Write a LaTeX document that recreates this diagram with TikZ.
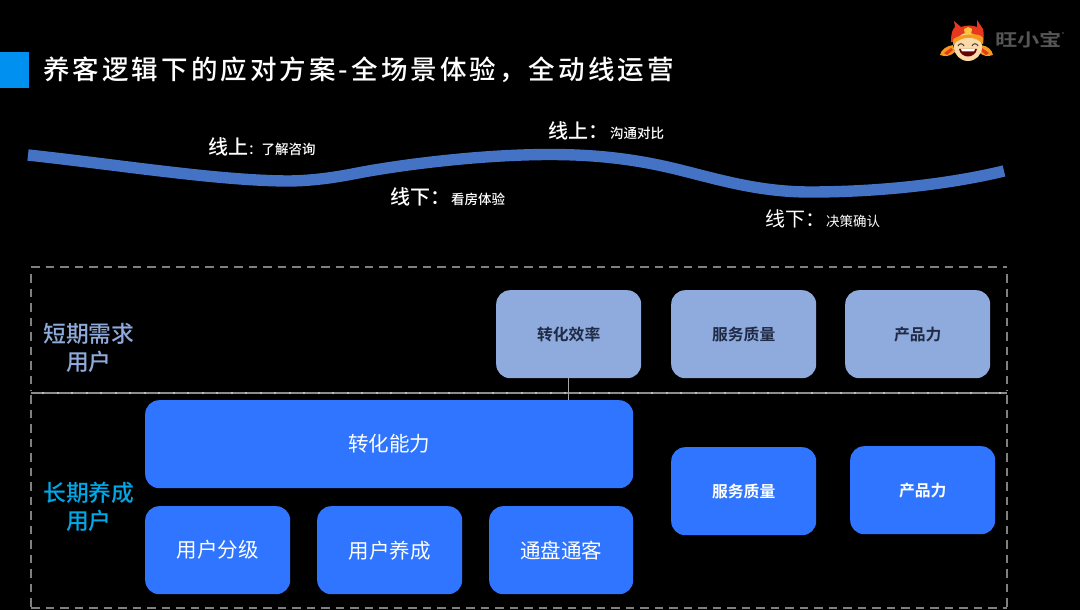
\documentclass[tikz,border=0pt]{standalone}
\usepackage{graphicx}
\usepackage{fontspec}
\setmainfont{Noto Sans CJK SC}
\newfontfamily\cjkbold{Noto Sans CJK SC Bold}
\newfontfamily\cjkmed{Noto Sans CJK SC Medium}
\definecolor{ribbon}{HTML}{4472C4}
\definecolor{lightbox}{HTML}{8FAADC}
\definecolor{strongbox}{HTML}{2F75FF}
\definecolor{titlebar}{HTML}{0090F0}
\definecolor{dashgray}{HTML}{808080}
\definecolor{longtext}{HTML}{00A8E8}
\definecolor{boxink}{HTML}{1F2A44}
\definecolor{hatred}{HTML}{E8371C}
\definecolor{hatorange}{HTML}{F59A1E}
\definecolor{hatyellow}{HTML}{F8C83C}
\definecolor{skin}{HTML}{FBD9A8}
\definecolor{logogray}{HTML}{555555}
\tikzset{
 x=1pt,y=-1pt,
 card/.style={rounded corners=14pt,inner sep=0pt,align=center,anchor=north west},
 lightcard/.style={card,fill=lightbox,text=boxink,minimum width=145pt,minimum height=88pt,font=\cjkbold\fontsize{15.8}{16}\selectfont},
 bluecard/.style={card,fill=strongbox,text=white,minimum width=145pt,minimum height=88pt,font=\fontsize{20.5}{21}\selectfont},
 smallblue/.style={bluecard,font=\cjkbold\fontsize{15.8}{16}\selectfont},
 rowlabel/.style={align=center,inner sep=0pt,font=\cjkmed\fontsize{22.8}{28}\selectfont},
 stagelabel/.style={text=white,inner sep=0pt,anchor=west},
 dashframe/.style={draw=dashgray,line width=2.2pt,dash pattern=on 8.7pt off 5.8pt},
}
\newcommand{\bigtxt}{\fontsize{20}{20}\selectfont}
\newcommand{\smalltxt}{\fontsize{13.5}{14}\selectfont}
\newcommand{\up}[2]{\raisebox{#1pt}{#2}}
\begin{document}
\begin{tikzpicture}
\useasboundingbox[fill=black] (0,0) rectangle (1080,610);
% title
\fill[titlebar] (0,52) rectangle (29,88);
\node[text=white,inner sep=0pt,anchor=west,font=\cjkmed\fontsize{26.5}{27}\selectfont] (title) at (43,70) {\addfontfeature{LetterSpace=11.6}养客逻辑下的应对方案-全场景体验，全动线运营};
% logo: flaps
\fill[hatorange] (953,45) .. controls (946,46) and (941,50) .. (940,55) .. controls (945,57) and (951,56) .. (955,52) -- cycle;
\fill[hatorange] (981,45) .. controls (988,46) and (992,50) .. (993,55) .. controls (988,57) and (982,56) .. (979,52) -- cycle;
\fill[hatred] (944,53) -- (951,48) -- (953,50) -- (947,55) -- cycle;
\fill[hatred] (989,53) -- (982,48) -- (980,50) -- (986,55) -- cycle;
% logo: hat
\fill[hatred] (951,42) .. controls (951,34) and (952,30) .. (955,27) -- (954,21) -- (961,27) .. controls (966,25) and (972,25) .. (977,27) -- (977,20) -- (983,29) .. controls (984,33) and (984,38) .. (983,44) -- cycle;
% logo: face
\fill[skin] (968,47) circle[radius=14];
% logo: hat band
\fill[hatorange] (953,40) .. controls (955,35) and (980,31) .. (983,38) -- (983,44) .. controls (975,35) and (961,36) .. (953,45) -- cycle;
\fill[hatyellow] (964,29) -- (968,27) -- (972,29) -- (971,34) -- (965,35) -- cycle;
% logo: features
\draw[black!75,line width=1pt] (958,46) .. controls (959,43) and (963,43) .. (964,46);
\draw[black!75,line width=1pt] (972,46) .. controls (973,43) and (977,43) .. (978,46);
\fill[red!40!black] (959,49) .. controls (961,59) and (975,59) .. (977,49) -- cycle;
\fill[white] (961,49) -- (975,49) -- (974,51.5) -- (962,51.5) -- cycle;
\node[text=logogray,inner sep=0pt,anchor=west,font=\cjkbold\fontsize{17.5}{18}\selectfont] (logotext) at (995,39.5) {\scalebox{1.27}[1]{旺小宝}};
\fill[logogray] (1063,33) circle[radius=.8];
% ribbon
\draw[ribbon,line width=11.4pt] (28,155) .. controls (120,165) and (220,181) .. (290,181) .. controls (315,180.5) and (335,177.5) .. (360,172.6) .. controls (400,165) and (480,154.5) .. (550,154.5) .. controls (600,154.5) and (640,160) .. (680,170) .. controls (720,180) and (760,192) .. (810,192) .. controls (880,192) and (950,184) .. (1004,171);
% stage labels
\node[stagelabel,font=\cjkmed] (s1) at (208,147) {{\bigtxt 线上}{\smalltxt ：了解咨询}};
\node[stagelabel,font=\cjkmed] (s2) at (390,197) {{\bigtxt 线下：}\hspace{1pt}{\smalltxt 看房体验}};
\node[stagelabel,font=\cjkmed] (s3) at (548,131) {{\bigtxt 线上：}\hspace{2pt}{\smalltxt 沟通对比}};
\node[stagelabel] (s4) at (765,219) {{\bigtxt 线下：}\hspace{1pt}{\smalltxt 决策确认}};
% frames
\draw[dashframe] (31,267) -- (1007,267);
\draw[dashframe] (31,274) -- (31,391);
\draw[dashframe] (1007,274) -- (1007,391);
\draw[dashframe] (31,395) -- (31,608);
\draw[dashframe] (1007,395) -- (1007,608);
\draw[dashframe] (31,608) -- (1007,608);
\draw[draw=gray!90,line width=2pt] (31,393) -- (1007,393);
\draw[draw=gray!50,line width=2pt,dash pattern=on 2pt off 12.5pt] (42,393) -- (1007,393);
% row labels
\node[rowlabel,text=lightbox] (shortrow) at (89,348) {短期需求\\用户};
\node[rowlabel,text=longtext] (longrow) at (89,507) {长期养成\\用户};
% upper cards
\node[lightcard] (a1) at (496,290) {\up{-1}{转化效率}};
\node[lightcard] (a2) at (671,290) {\up{0.5}{服务质量}};
\node[lightcard] (a3) at (845,290) {\up{-1}{产品力}};
% lower cards
\node[bluecard,minimum width=488pt] (b0) at (145,400) {\up{1}{转化能力}};
\node[bluecard] (b1) at (145,506) {\up{1}{用户分级}};
\node[bluecard] (b2) at (317,506) {\up{1}{用户养成}};
\node[bluecard,minimum width=144pt] (b3) at (489,506) {\up{1}{通盘通客}};
\node[smallblue] (c1) at (671,447) {\up{1}{服务质量}};
\node[smallblue] (c2) at (850,446) {产品力};
% link
\draw[gray!70,line width=1pt] (a1.south) -- (a1.south |- b0.north);
\end{tikzpicture}
\end{document}
